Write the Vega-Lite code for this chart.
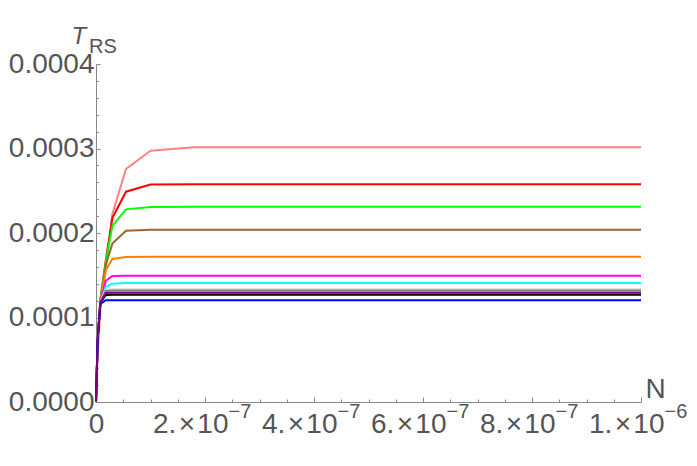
{
  "$schema": "https://vega.github.io/schema/vega-lite/v6.json",
  "width": 545,
  "height": 338,
  "autosize": "none",
  "padding": {"left": 96, "top": 64, "right": 56, "bottom": 64},
  "background": "white",
  "config": {"view": {"stroke": null}, "font": "Liberation Sans"},
  "datasets": {
    "curves": [
      {"s": "pink", "n": 0, "t": 0}, {"s": "pink", "n": 3e-9, "t": 5.6e-5}, {"s": "pink", "n": 8e-9, "t": 1.09e-4}, {"s": "pink", "n": 1.8e-8, "t": 1.586e-4}, {"s": "pink", "n": 3e-8, "t": 2.225e-4}, {"s": "pink", "n": 5.5e-8, "t": 2.757e-4}, {"s": "pink", "n": 1e-7, "t": 2.974e-4}, {"s": "pink", "n": 1.8e-7, "t": 3.016e-4}, {"s": "pink", "n": 1e-6, "t": 3.016e-4},
      {"s": "red", "n": 0, "t": 0}, {"s": "red", "n": 3e-9, "t": 7.34e-5}, {"s": "red", "n": 8e-9, "t": 1.207e-4}, {"s": "red", "n": 1.8e-8, "t": 1.68e-4}, {"s": "red", "n": 3e-8, "t": 2.177e-4}, {"s": "red", "n": 5.5e-8, "t": 2.489e-4}, {"s": "red", "n": 1e-7, "t": 2.573e-4}, {"s": "red", "n": 1.8e-7, "t": 2.576e-4}, {"s": "red", "n": 1e-6, "t": 2.576e-4},
      {"s": "green", "n": 0, "t": 0}, {"s": "green", "n": 3e-9, "t": 7.34e-5}, {"s": "green", "n": 8e-9, "t": 1.207e-4}, {"s": "green", "n": 1.8e-8, "t": 1.657e-4}, {"s": "green", "n": 3e-8, "t": 2.083e-4}, {"s": "green", "n": 5.5e-8, "t": 2.28e-4}, {"s": "green", "n": 1e-7, "t": 2.308e-4}, {"s": "green", "n": 1.8e-7, "t": 2.311e-4}, {"s": "green", "n": 1e-6, "t": 2.311e-4},
      {"s": "brown", "n": 0, "t": 0}, {"s": "brown", "n": 3e-9, "t": 7.34e-5}, {"s": "brown", "n": 8e-9, "t": 1.207e-4}, {"s": "brown", "n": 1.8e-8, "t": 1.621e-4}, {"s": "brown", "n": 3e-8, "t": 1.874e-4}, {"s": "brown", "n": 5.5e-8, "t": 2.027e-4}, {"s": "brown", "n": 1e-7, "t": 2.038e-4}, {"s": "brown", "n": 1.8e-7, "t": 2.039e-4}, {"s": "brown", "n": 1e-6, "t": 2.039e-4},
      {"s": "orange", "n": 0, "t": 0}, {"s": "orange", "n": 3e-9, "t": 7.34e-5}, {"s": "orange", "n": 8e-9, "t": 1.195e-4}, {"s": "orange", "n": 1.8e-8, "t": 1.562e-4}, {"s": "orange", "n": 3e-8, "t": 1.692e-4}, {"s": "orange", "n": 5.5e-8, "t": 1.716e-4}, {"s": "orange", "n": 1e-7, "t": 1.719e-4}, {"s": "orange", "n": 1.8e-7, "t": 1.719e-4}, {"s": "orange", "n": 1e-6, "t": 1.719e-4},
      {"s": "magenta", "n": 0, "t": 0}, {"s": "magenta", "n": 3e-9, "t": 7.34e-5}, {"s": "magenta", "n": 8e-9, "t": 1.183e-4}, {"s": "magenta", "n": 1.8e-8, "t": 1.435e-4}, {"s": "magenta", "n": 3e-8, "t": 1.491e-4}, {"s": "magenta", "n": 5.5e-8, "t": 1.495e-4}, {"s": "magenta", "n": 1e-7, "t": 1.495e-4}, {"s": "magenta", "n": 1.8e-7, "t": 1.495e-4}, {"s": "magenta", "n": 1e-6, "t": 1.495e-4},
      {"s": "cyan", "n": 0, "t": 0}, {"s": "cyan", "n": 3e-9, "t": 7.34e-5}, {"s": "cyan", "n": 8e-9, "t": 1.183e-4}, {"s": "cyan", "n": 1.8e-8, "t": 1.364e-4}, {"s": "cyan", "n": 3e-8, "t": 1.4e-4}, {"s": "cyan", "n": 5.5e-8, "t": 1.408e-4}, {"s": "cyan", "n": 1e-7, "t": 1.408e-4}, {"s": "cyan", "n": 1.8e-7, "t": 1.408e-4}, {"s": "cyan", "n": 1e-6, "t": 1.408e-4},
      {"s": "lightgray", "n": 0, "t": 0}, {"s": "lightgray", "n": 3e-9, "t": 7.34e-5}, {"s": "lightgray", "n": 8e-9, "t": 1.183e-4}, {"s": "lightgray", "n": 1.8e-8, "t": 1.33e-4}, {"s": "lightgray", "n": 3e-8, "t": 1.334e-4}, {"s": "lightgray", "n": 5.5e-8, "t": 1.334e-4}, {"s": "lightgray", "n": 1e-7, "t": 1.334e-4}, {"s": "lightgray", "n": 1.8e-7, "t": 1.334e-4}, {"s": "lightgray", "n": 1e-6, "t": 1.334e-4},
      {"s": "gray", "n": 0, "t": 0}, {"s": "gray", "n": 3e-9, "t": 7.34e-5}, {"s": "gray", "n": 8e-9, "t": 1.18e-4}, {"s": "gray", "n": 1.8e-8, "t": 1.315e-4}, {"s": "gray", "n": 3e-8, "t": 1.319e-4}, {"s": "gray", "n": 5.5e-8, "t": 1.319e-4}, {"s": "gray", "n": 1e-7, "t": 1.319e-4}, {"s": "gray", "n": 1.8e-7, "t": 1.319e-4}, {"s": "gray", "n": 1e-6, "t": 1.319e-4},
      {"s": "black", "n": 0, "t": 0}, {"s": "black", "n": 3e-9, "t": 7.34e-5}, {"s": "black", "n": 8e-9, "t": 1.172e-4}, {"s": "black", "n": 1.8e-8, "t": 1.266e-4}, {"s": "black", "n": 3e-8, "t": 1.27e-4}, {"s": "black", "n": 5.5e-8, "t": 1.27e-4}, {"s": "black", "n": 1e-7, "t": 1.27e-4}, {"s": "black", "n": 1.8e-7, "t": 1.27e-4}, {"s": "black", "n": 1e-6, "t": 1.27e-4},
      {"s": "blue", "n": 0, "t": 0}, {"s": "blue", "n": 3e-9, "t": 7.34e-5}, {"s": "blue", "n": 8e-9, "t": 1.16e-4}, {"s": "blue", "n": 1.8e-8, "t": 1.204e-4}, {"s": "blue", "n": 3e-8, "t": 1.204e-4}, {"s": "blue", "n": 5.5e-8, "t": 1.204e-4}, {"s": "blue", "n": 1e-7, "t": 1.204e-4}, {"s": "blue", "n": 1.8e-7, "t": 1.204e-4}, {"s": "blue", "n": 1e-6, "t": 1.204e-4},
      {"s": "purple", "n": 0, "t": 0}, {"s": "purple", "n": 3e-9, "t": 7.34e-5}, {"s": "purple", "n": 8e-9, "t": 1.175e-4}, {"s": "purple", "n": 1.8e-8, "t": 1.29e-4}, {"s": "purple", "n": 3e-8, "t": 1.293e-4}, {"s": "purple", "n": 5.5e-8, "t": 1.293e-4}, {"s": "purple", "n": 1e-7, "t": 1.293e-4}, {"s": "purple", "n": 1.8e-7, "t": 1.293e-4}, {"s": "purple", "n": 1e-6, "t": 1.293e-4}
    ]
  },
  "data": {"name": "curves"},
  "layer": [
    {
      "mark": {"type": "line", "strokeWidth": 2, "clip": false},
      "encoding": {
        "x": {
          "field": "n", "type": "quantitative",
          "scale": {"domain": [0, 1e-6], "nice": false, "zero": true},
          "axis": {
            "orient": "bottom",
            "values": [0, 2e-7, 4e-7, 6e-7, 8e-7, 1e-6],
            "labelExpr": "datum.value == 0 ? '' : datum.value > 9.9e-7 ? '1.\u200a×\u200a10' : format(datum.value * 1e7, 'd') + '.\u200a×\u200a10'",
            "labelFontSize": 28, "labelColor": "#555555", "labelFlush": false, "labelOverlap": false, "labelBound": false,
            "labelAlign": "right", "labelOffset": 23,
            "labelPadding": 13,
            "tickSize": -5, "tickColor": "#888888", "tickWidth": 1,
            "domainColor": "#888888", "domainWidth": 1,
            "grid": false,
            "title": "N", "titleFontSize": 28, "titleFontWeight": "normal", "titleColor": "#555555",
            "titleAlign": "left", "titleBaseline": "alphabetic", "titleAngle": 0,
            "titleX": 549, "titleY": -5
          }
        },
        "y": {
          "field": "t", "type": "quantitative",
          "scale": {"domain": [0, 0.0004], "nice": false, "zero": true},
          "axis": {
            "orient": "left",
            "values": [0, 0.0001, 0.0002, 0.0003, 0.0004],
            "format": ".4f",
            "labelFontSize": 28, "labelColor": "#555555", "labelFlush": false, "labelOverlap": false, "labelBound": false,
            "labelPadding": 6,
            "tickSize": -4, "tickColor": "#888888", "tickWidth": 1,
            "domainColor": "#888888", "domainWidth": 1,
            "grid": false,
            "title": "T", "titleFontSize": 24, "titleFontWeight": "normal", "titleFontStyle": "italic", "titleColor": "#555555",
            "titleAlign": "left", "titleBaseline": "alphabetic", "titleAngle": 0,
            "titleX": -25, "titleY": -21
          }
        },
        "color": {
          "field": "s", "type": "nominal", "legend": null,
          "scale": {
            "domain": ["pink", "red", "green", "brown", "orange", "magenta", "cyan", "lightgray", "gray", "black", "blue", "purple"],
            "range": ["#FF8080", "#FF0000", "#00FF00", "#996633", "#FF8000", "#FF00FF", "#00FFFF", "#D9D9D9", "#808080", "#000000", "#0000FF", "#800080"]
          }
        }
      }
    },
    {
      "mark": {"type": "line", "strokeOpacity": 0},
      "encoding": {
        "x": {
          "field": "n", "type": "quantitative",
          "axis": {
            "orient": "bottom",
            "values": [0, 5e-8, 1e-7, 1.5e-7, 2.5e-7, 3e-7, 3.5e-7, 4.5e-7, 5e-7, 5.5e-7, 6.5e-7, 7e-7, 7.5e-7, 8.5e-7, 9e-7, 9.5e-7],
            "labelExpr": "datum.value == 0 ? '0' : ''",
            "labelFontSize": 28, "labelColor": "#555555", "labelFlush": false, "labelOverlap": false, "labelBound": false,
            "labelAlign": "center", "labelPadding": 11,
            "domain": false, "grid": false, "title": null,
            "tickSize": -3, "tickColor": "#888888", "tickWidth": 1
          }
        },
        "y": {
          "field": "t", "type": "quantitative",
          "axis": {
            "orient": "left",
            "values": [2e-5, 4e-5, 6e-5, 8e-5, 1.2e-4, 1.4e-4, 1.6e-4, 1.8e-4, 2.2e-4, 2.4e-4, 2.6e-4, 2.8e-4, 3.2e-4, 3.4e-4, 3.6e-4, 3.8e-4],
            "labels": false, "domain": false, "grid": false, "title": null,
            "tickSize": -2.5, "tickColor": "#888888", "tickWidth": 1
          }
        },
        "detail": {"field": "s", "type": "nominal"}
      }
    },
    {
      "mark": {"type": "line", "strokeOpacity": 0},
      "encoding": {
        "x": {
          "field": "n", "type": "quantitative",
          "axis": {
            "orient": "bottom",
            "values": [2e-7, 4e-7, 6e-7, 8e-7, 1e-6],
            "labelExpr": "datum.value > 9.9e-7 ? '−6' : '−7'",
            "labelFontSize": 20, "labelColor": "#555555", "labelFlush": false, "labelOverlap": false, "labelBound": false,
            "labelAlign": "left", "labelOffset": 23,
            "labelPadding": 4,
            "domain": false, "grid": false, "title": null,
            "tickSize": -5, "tickOpacity": 0
          }
        },
        "y": {"field": "t", "type": "quantitative", "axis": null},
        "detail": {"field": "s", "type": "nominal"}
      }
    },
    {
      "data": {"values": [{"label": "RS"}]},
      "mark": {"type": "text", "fontSize": 20, "color": "#555555", "align": "left", "baseline": "alphabetic", "dx": -7, "dy": -11},
      "encoding": {
        "x": {"datum": 0, "type": "quantitative", "axis": null},
        "y": {"datum": 0.0004, "type": "quantitative", "axis": null},
        "text": {"field": "label", "type": "nominal"}
      }
    }
  ],
  "resolve": {"axis": {"x": "independent", "y": "independent"}}
}
